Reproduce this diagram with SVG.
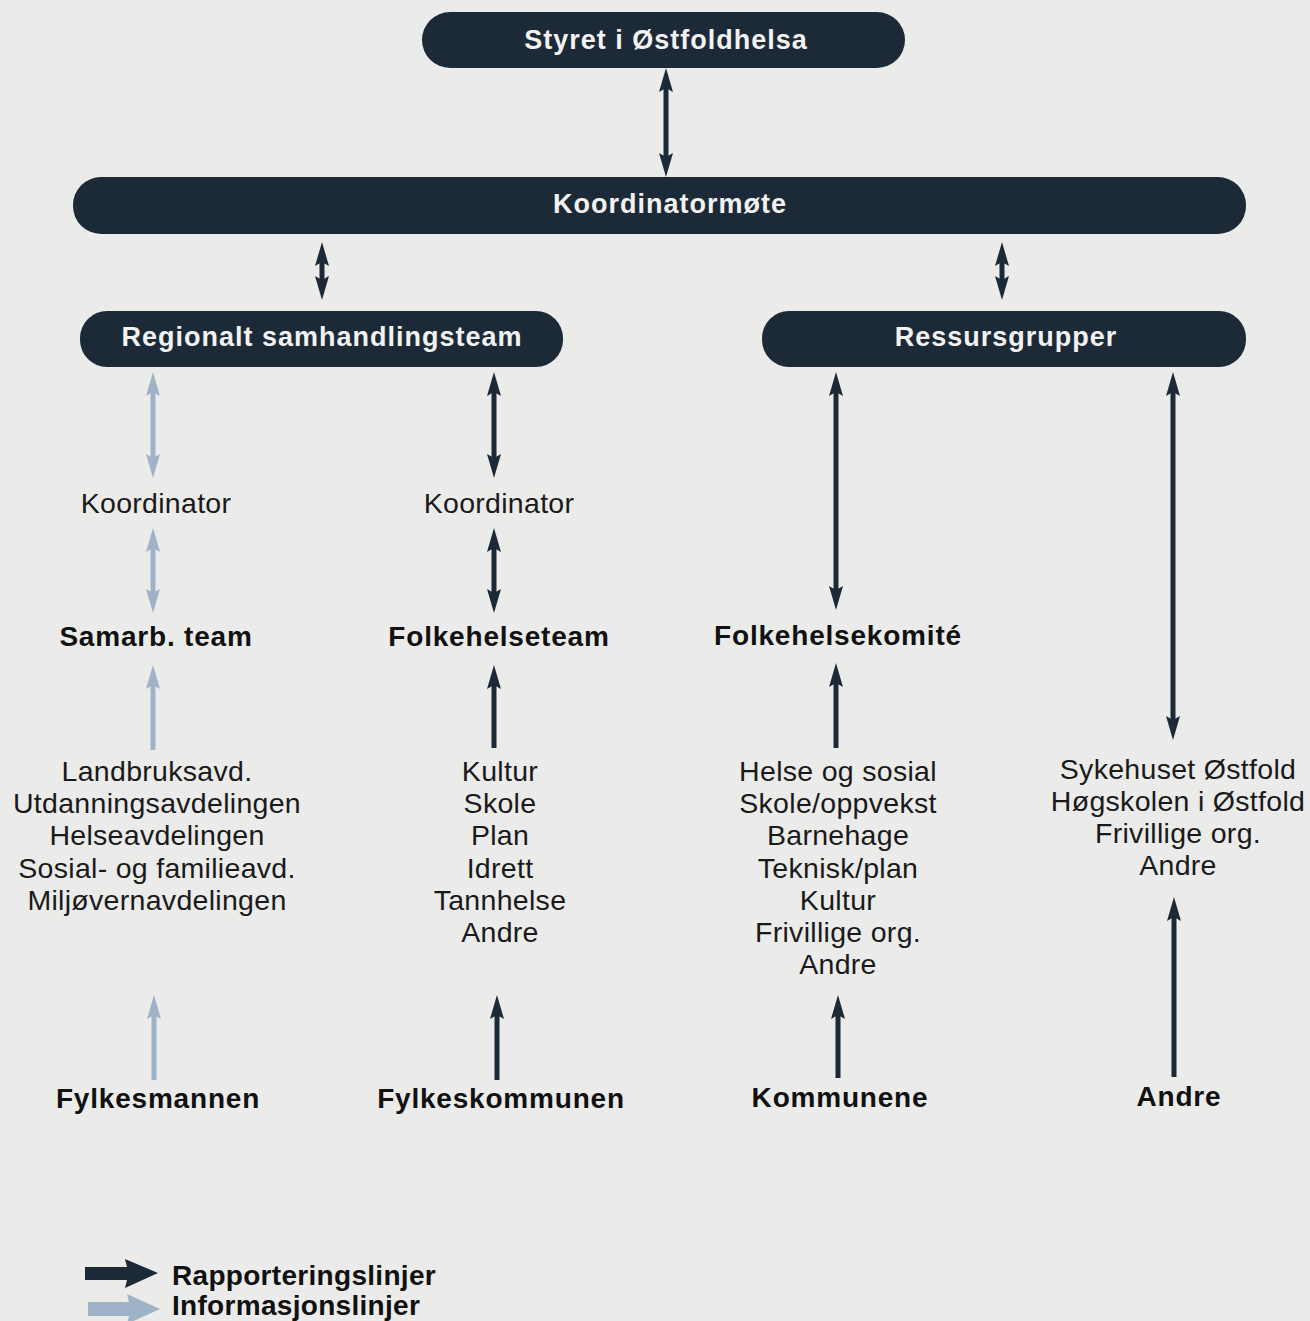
<svg xmlns="http://www.w3.org/2000/svg" width="1310" height="1321" viewBox="0 0 1310 1321">
<style>
.node{fill:#1c2a37}
.nt{font-family:"Liberation Sans",Arial,sans-serif;font-weight:bold;font-size:27px;fill:#f2f2f2;text-anchor:middle;letter-spacing:1px}
.t{font-family:"Liberation Sans",Arial,sans-serif;font-size:28.5px;fill:#1a1a1a;text-anchor:middle;letter-spacing:0.3px}
.b{font-family:"Liberation Sans",Arial,sans-serif;font-weight:bold;font-size:28px;fill:#111;text-anchor:middle;letter-spacing:0.8px}
.lg{font-family:"Liberation Sans",Arial,sans-serif;font-weight:bold;font-size:28px;fill:#111;letter-spacing:0.3px}
.dk{stroke:#1c2a37;stroke-width:5;fill:none}
.lt{stroke:#9fb3c6;stroke-width:5;fill:none}
</style>
<defs>
<marker id="ad" markerUnits="userSpaceOnUse" markerWidth="24" markerHeight="14" viewBox="0 0 24 14" refX="4" refY="7" orient="auto-start-reverse">
<path d="M0,0 L24,7 L0,14 L4,7 z" fill="#1c2a37"/>
</marker>
<marker id="al" markerUnits="userSpaceOnUse" markerWidth="24" markerHeight="14" viewBox="0 0 24 14" refX="4" refY="7" orient="auto-start-reverse">
<path d="M0,0 L24,7 L0,14 L4,7 z" fill="#9fb3c6"/>
</marker>
</defs>
<rect width="1310" height="1321" fill="#ebebea"/>

<g id="connectors">
<line class="dk" x1="666" y1="88" x2="666" y2="157" marker-start="url(#ad)" marker-end="url(#ad)"/>
<line class="dk" x1="322" y1="262" x2="322" y2="280" marker-start="url(#ad)" marker-end="url(#ad)"/>
<line class="dk" x1="1002" y1="262" x2="1002" y2="280" marker-start="url(#ad)" marker-end="url(#ad)"/>

<line class="lt" x1="153" y1="392" x2="153" y2="458" marker-start="url(#al)" marker-end="url(#al)"/>
<line class="lt" x1="153" y1="548" x2="153" y2="593" marker-start="url(#al)" marker-end="url(#al)"/>
<line class="lt" x1="153" y1="750" x2="153" y2="685" marker-end="url(#al)"/>
<line class="lt" x1="154" y1="1080" x2="154" y2="1015" marker-end="url(#al)"/>

<line class="dk" x1="494" y1="392" x2="494" y2="458" marker-start="url(#ad)" marker-end="url(#ad)"/>
<line class="dk" x1="494" y1="548" x2="494" y2="593" marker-start="url(#ad)" marker-end="url(#ad)"/>
<line class="dk" x1="494" y1="748" x2="494" y2="685" marker-end="url(#ad)"/>
<line class="dk" x1="497" y1="1080" x2="497" y2="1015" marker-end="url(#ad)"/>

<line class="dk" x1="836" y1="392" x2="836" y2="590" marker-start="url(#ad)" marker-end="url(#ad)"/>
<line class="dk" x1="836" y1="748" x2="836" y2="683" marker-end="url(#ad)"/>
<line class="dk" x1="838" y1="1078" x2="838" y2="1015" marker-end="url(#ad)"/>

<line class="dk" x1="1173" y1="392" x2="1173" y2="720" marker-start="url(#ad)" marker-end="url(#ad)"/>
<line class="dk" x1="1174" y1="1077" x2="1174" y2="917" marker-end="url(#ad)"/>
</g>

<g id="styret">
<rect class="node" x="422" y="12" width="483" height="56" rx="28"/>
<text class="nt" x="666" y="49">Styret i Østfoldhelsa</text>
</g>
<g id="koordinatormote">
<rect class="node" x="73" y="177" width="1173" height="57" rx="28"/>
<text class="nt" x="670" y="213">Koordinatormøte</text>
</g>
<g id="regionalt">
<rect class="node" x="80" y="311" width="483" height="56" rx="27"/>
<text class="nt" x="322" y="346">Regionalt samhandlingsteam</text>
</g>
<g id="ressursgrupper">
<rect class="node" x="762" y="311" width="484" height="56" rx="27"/>
<text class="nt" x="1006" y="346">Ressursgrupper</text>
</g>

<g id="col1">
<text class="t" x="156" y="513">Koordinator</text>
<text class="b" x="156" y="646">Samarb. team</text>
<text class="t" x="157" y="781">Landbruksavd.</text>
<text class="t" x="157" y="813">Utdanningsavdelingen</text>
<text class="t" x="157" y="845">Helseavdelingen</text>
<text class="t" x="157" y="878">Sosial- og familieavd.</text>
<text class="t" x="157" y="910">Miljøvernavdelingen</text>
<text class="b" x="158" y="1108">Fylkesmannen</text>
</g>
<g id="col2">
<text class="t" x="499" y="513">Koordinator</text>
<text class="b" x="499" y="646">Folkehelseteam</text>
<text class="t" x="500" y="781">Kultur</text>
<text class="t" x="500" y="813">Skole</text>
<text class="t" x="500" y="845">Plan</text>
<text class="t" x="500" y="878">Idrett</text>
<text class="t" x="500" y="910">Tannhelse</text>
<text class="t" x="500" y="942">Andre</text>
<text class="b" x="501" y="1108">Fylkeskommunen</text>
</g>
<g id="col3">
<text class="b" x="838" y="645">Folkehelsekomité</text>
<text class="t" x="838" y="781">Helse og sosial</text>
<text class="t" x="838" y="813">Skole/oppvekst</text>
<text class="t" x="838" y="845">Barnehage</text>
<text class="t" x="838" y="878">Teknisk/plan</text>
<text class="t" x="838" y="910">Kultur</text>
<text class="t" x="838" y="942">Frivillige org.</text>
<text class="t" x="838" y="974">Andre</text>
<text class="b" x="840" y="1107">Kommunene</text>
</g>
<g id="col4">
<text class="t" x="1178" y="779">Sykehuset Østfold</text>
<text class="t" x="1178" y="811">Høgskolen i Østfold</text>
<text class="t" x="1178" y="843">Frivillige org.</text>
<text class="t" x="1178" y="875">Andre</text>
<text class="b" x="1179" y="1106">Andre</text>
</g>

<g id="legend">
<polygon points="85,1267 127,1267 125,1259 158,1273 125,1288 127,1280 85,1280" fill="#1c2a37"/>
<polygon points="88,1302 129,1302 127,1294 160,1309 127,1324 129,1316 88,1316" fill="#9fb3c6"/>
<text class="lg" x="172" y="1285">Rapporteringslinjer</text>
<text class="lg" x="172" y="1315">Informasjonslinjer</text>
</g>
</svg>
